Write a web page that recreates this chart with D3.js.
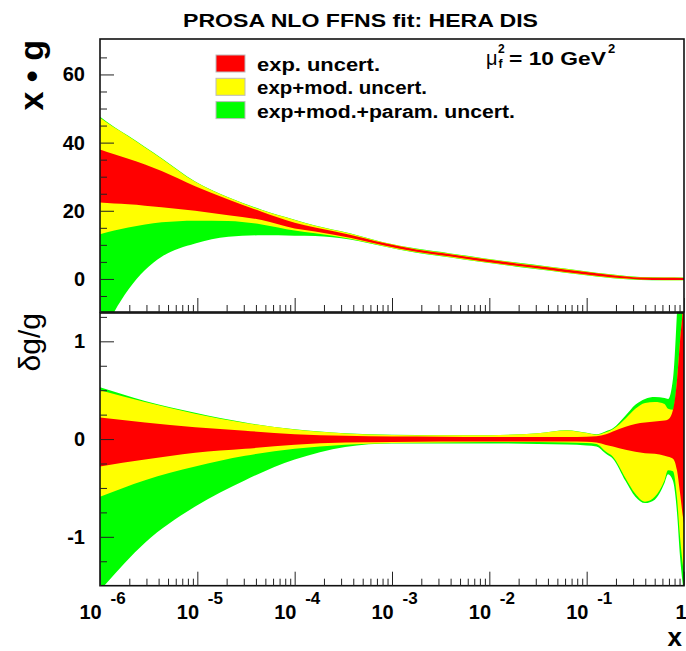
<!DOCTYPE html>
<html>
<head>
<meta charset="utf-8">
<script src="https://cdn.jsdelivr.net/npm/d3@7"></script>
<style>
  body { margin: 0; background: #fff; }
  svg { display: block; }
  text { font-family: "Liberation Sans", Arial, Helvetica, sans-serif; }
</style>
</head>
<body>
<svg id="chart" width="686" height="651"></svg>
<script>
// ---- gluon density x·g at mu_f^2 = 10 GeV^2 : band boundaries ----
const xTop = [1e-6, 1.4e-6, 1.95e-6, 2.9e-6, 4.3e-6, 9.5e-6, 2.08e-5, 4.58e-5, 1.0e-4, 1.62e-4,
              3.7e-4, 8.1e-4, 1.78e-3, 4.0e-3, 8.7e-3, 1.9e-2, 4.2e-2, 8.5e-2, 0.186, 0.355, 0.63, 1];
const topGreenHi  = [47.6, 44.6, 42.0, 38.7, 35.4, 28.6, 24.0, 20.3, 17.4, 15.7, 13.4, 10.8, 8.9, 7.5, 6.1, 4.8, 3.6, 2.5, 1.3, 0.6, 0.45, 0.4];
const topYellowHi = [47.3, 44.4, 41.9, 38.6, 35.3, 28.5, 23.9, 20.2, 17.3, 15.6, 13.3, 10.75, 8.8, 7.4, 6.0, 4.7, 3.5, 2.4, 1.2, 0.5, 0.4, 0.35];
const topRedHi    = [38.0, 36.6, 35.3, 33.6, 31.7, 27.2, 23.3, 19.7, 16.5, 15.1, 13.0, 10.6, 8.65, 7.25, 5.85, 4.55, 3.35, 2.25, 1.1, 0.45, 0.35, 0.3];
const topRedLo    = [22.4, 22.1, 21.9, 21.5, 21.0, 20.0, 18.7, 17.3, 14.8, 13.9, 12.1, 9.9, 7.95, 6.55, 5.15, 3.85, 2.65, 1.55, 0.4, -0.15, -0.3, -0.3];
const topYellowLo = [13.1, 14.2, 15.1, 16.0, 16.6, 17.1, 17.0, 16.0, 14.2, 13.4, 11.8, 9.7, 7.8, 6.4, 5.0, 3.7, 2.5, 1.4, 0.3, -0.2, -0.35, -0.35];
const topGreenLo  = [-18, -9.7, -3.2, 2.6, 6.5, 10.4, 12.4, 12.8, 12.7, 12.6, 11.6, 9.6, 7.7, 6.3, 4.9, 3.6, 2.4, 1.3, 0.2, -0.3, -0.4, -0.4];

// ---- relative uncertainty dg/g : band boundaries ----
const xRel = [1e-6, 2.9e-6, 9.5e-6, 3.1e-5, 1e-4, 3.3e-4, 1e-3, 3.16e-3, 1e-2, 3.16e-2, 6.3e-2, 0.1, 0.126,
              0.158, 0.186, 0.251, 0.316, 0.398, 0.501, 0.631, 0.686, 0.771, 0.847, 0.910, 0.977, 1];
const relGreenHi  = [0.53, 0.39, 0.27, 0.17, 0.10, 0.06, 0.044, 0.04, 0.04, 0.06, 0.09, 0.065, 0.05, 0.08, 0.11, 0.24, 0.35, 0.41, 0.43, 0.42, 0.41, 0.62, 1.3, 2.0, 3.0, 3.0];
const relYellowHi = [0.50, 0.38, 0.26, 0.165, 0.097, 0.058, 0.042, 0.038, 0.04, 0.06, 0.088, 0.062, 0.045, 0.07, 0.10, 0.21, 0.31, 0.37, 0.38, 0.36, 0.31, 0.30, 0.60, 1.0, 1.35, 1.5];
const relRedHi    = [0.22, 0.17, 0.12, 0.085, 0.05, 0.034, 0.027, 0.025, 0.022, 0.022, 0.022, 0.025, 0.03, 0.05, 0.078, 0.125, 0.155, 0.17, 0.18, 0.19, 0.20, 0.30, 0.60, 1.0, 1.35, 1.5];
const relRedLo    = [-0.28, -0.21, -0.14, -0.10, -0.058, -0.035, -0.03, -0.025, -0.025, -0.025, -0.025, -0.028, -0.035, -0.06, -0.075, -0.11, -0.13, -0.145, -0.15, -0.17, -0.18, -0.20, -0.32, -0.55, -0.80, -0.86];
const relYellowLo = [-0.59, -0.42, -0.28, -0.17, -0.10, -0.058, -0.04, -0.035, -0.03, -0.03, -0.035, -0.04, -0.05, -0.13, -0.18, -0.40, -0.56, -0.64, -0.59, -0.42, -0.32, -0.33, -0.60, -1.0, -1.30, -1.36];
const relGreenLo  = [-1.55, -1.06, -0.69, -0.42, -0.21, -0.08, -0.046, -0.045, -0.045, -0.05, -0.055, -0.065, -0.075, -0.15, -0.20, -0.43, -0.59, -0.655, -0.62, -0.45, -0.36, -0.43, -0.75, -1.2, -1.5, -1.56];

// ---- ticks and labels ----
const xDecades = [-6, -5, -4, -3, -2, -1];
const topYTicks = [0, 20, 40, 60];
const relYTicks = [-1, 0, 1];
const legendLabels = ["exp. uncert.", "exp+mod. uncert.", "exp+mod.+param. uncert."];
const bandColors = ["#ff0000", "#ffff00", "#00ff00"];

const svg = d3.select("#chart");
const L = 100, R = 684;
const topY0 = 39, topY1 = 312, botY0 = 312, botY1 = 585.7;

const x = d3.scaleLog().domain([1e-6, 1]).range([L, R]);
const yTop = d3.scaleLinear().domain([-9.7, 70.4]).range([topY1, topY0]);
const yRel = d3.scaleLinear().domain([-1.5, 1.3]).range([botY1, botY0]);

const defs = svg.append("defs");
defs.append("clipPath").attr("id", "clipTop").append("rect")
  .attr("x", L).attr("y", topY0).attr("width", R - L + 2).attr("height", topY1 - topY0);
defs.append("clipPath").attr("id", "clipRel").append("rect")
  .attr("x", L).attr("y", botY0).attr("width", R - L + 2).attr("height", botY1 - botY0);

function drawBand(g, xs, hi, lo, y, color) {
  const rows = xs.map((v, i) => ({ x: v, hi: hi[i], lo: lo[i] }));
  const area = d3.area()
    .x(d => x(d.x))
    .y0(d => y(d.lo))
    .y1(d => y(d.hi))
    .curve(d3.curveMonotoneX);
  g.append("path").datum(rows).attr("d", area).attr("fill", color).attr("stroke", "none");
}

// bands, outermost first
const gTop = svg.append("g").attr("clip-path", "url(#clipTop)");
drawBand(gTop, xTop, topGreenHi, topGreenLo, yTop, bandColors[2]);
drawBand(gTop, xTop, topYellowHi, topYellowLo, yTop, bandColors[1]);
drawBand(gTop, xTop, topRedHi, topRedLo, yTop, bandColors[0]);

const gRel = svg.append("g").attr("clip-path", "url(#clipRel)");
drawBand(gRel, xRel, relGreenHi, relGreenLo, yRel, bandColors[2]);
drawBand(gRel, xRel, relYellowHi, relYellowLo, yRel, bandColors[1]);
drawBand(gRel, xRel, relRedHi, relRedLo, yRel, bandColors[0]);

// frames
svg.append("rect").attr("x", L).attr("y", topY0).attr("width", R - L).attr("height", topY1 - topY0)
  .attr("fill", "none").attr("stroke", "#111").attr("stroke-width", 1.6);
svg.append("rect").attr("x", L).attr("y", botY0 + 1).attr("width", R - L).attr("height", botY1 - botY0 - 1)
  .attr("fill", "none").attr("stroke", "#111").attr("stroke-width", 1.6);

// x axes: major decades and minor 2..9 ticks pointing into each panel
const majorX = xDecades.map(k => Math.pow(10, k)).concat([1]);
const minorX = [];
xDecades.forEach(k => { for (let m = 2; m <= 9; m++) minorX.push(m * Math.pow(10, k)); });

function xAxes(yPos) {
  const major = d3.axisBottom(x).tickValues(majorX).tickSizeInner(-14).tickSizeOuter(0).tickFormat("");
  const minor = d3.axisBottom(x).tickValues(minorX).tickSizeInner(-7).tickSizeOuter(0).tickFormat("");
  [major, minor].forEach(a => {
    const g = svg.append("g").attr("transform", `translate(0,${yPos})`).call(a);
    g.select(".domain").remove();
    g.selectAll("line").attr("stroke", "#222").attr("stroke-width", 1);
  });
}
xAxes(topY1);
xAxes(botY1);

// y axes (labels use a plain hyphen for the minus sign)
const intFmt = v => String(Math.round(v));
function yAxis(scale, majors, minors) {
  const major = d3.axisLeft(scale).tickValues(majors).tickSizeInner(-14).tickSizeOuter(0)
    .tickPadding(15).tickFormat(intFmt);
  const g = svg.append("g").attr("transform", `translate(${L},0)`).call(major);
  g.select(".domain").remove();
  g.selectAll("line").attr("stroke", "#222");
  g.selectAll("text").attr("font-size", 20).attr("font-weight", "bold")
    .attr("font-family", "'Liberation Sans', Arial, Helvetica, sans-serif").attr("fill", "#000");
  const minor = d3.axisLeft(scale).tickValues(minors).tickSizeInner(-7).tickSizeOuter(0).tickFormat("");
  const gm = svg.append("g").attr("transform", `translate(${L},0)`).call(minor);
  gm.select(".domain").remove();
  gm.selectAll("line").attr("stroke", "#222");
}
yAxis(yTop, topYTicks, d3.range(-5, 70, 5).filter(v => v % 20 !== 0));
yAxis(yRel, relYTicks, d3.range(-1.25, 1.3, 0.25).filter(v => Math.abs(v - Math.round(v)) > 1e-6));

// x tick labels 10^k
const lab = svg.append("g").attr("font-weight", "bold").attr("fill", "#000");
xDecades.forEach(k => {
  const px = x(Math.pow(10, k));
  lab.append("text").attr("x", px - 20.5).attr("y", 619).attr("font-size", 20).text("10");
  lab.append("text").attr("x", px + 10.5).attr("y", 604).attr("font-size", 17).text(String(k));
});
lab.append("text").attr("x", x(1) - 3).attr("y", 619).attr("font-size", 20)
  .attr("text-anchor", "middle").text("1");

// axis titles
svg.append("text").attr("transform", "translate(43,40) rotate(-90)")
  .attr("text-anchor", "end").attr("font-size", 34).attr("font-weight", "bold").text("x • g");
svg.append("text").attr("transform", "translate(40,313) rotate(-90)")
  .attr("text-anchor", "end").attr("font-size", 30).text("δg/g");
svg.append("text").attr("x", 682).attr("y", 646).attr("text-anchor", "end")
  .attr("font-size", 26).attr("font-weight", "bold").text("x");

// title
svg.append("text").attr("x", 183).attr("y", 27).attr("font-size", 18).attr("font-weight", "bold")
  .attr("textLength", 355).attr("lengthAdjust", "spacingAndGlyphs")
  .text("PROSA NLO FFNS fit: HERA DIS");

// legend
const legWidths = [123, 170, 258];
legendLabels.forEach((t, i) => {
  const yb = 55 + i * 23.3;
  svg.append("rect").attr("x", 216).attr("y", yb).attr("width", 29).attr("height", 17)
    .attr("fill", bandColors[i]).attr("stroke", "#bbb").attr("stroke-width", 1);
  svg.append("text").attr("x", 257).attr("y", yb + 16).attr("font-size", 18).attr("font-weight", "bold")
    .attr("textLength", legWidths[i]).attr("lengthAdjust", "spacingAndGlyphs").text(t);
});

// scale label  mu_f^2 = 10 GeV^2
const mu = svg.append("g").attr("fill", "#000");
mu.append("text").attr("x", 486).attr("y", 65).attr("font-size", 20).text("μ");
mu.append("text").attr("x", 498).attr("y", 53).attr("font-size", 12).attr("font-weight", "bold").text("2");
mu.append("text").attr("x", 498.5).attr("y", 68).attr("font-size", 12).attr("font-weight", "bold").text("f");
mu.append("text").attr("x", 509).attr("y", 65).attr("font-size", 18).attr("font-weight", "bold")
  .attr("textLength", 97).attr("lengthAdjust", "spacingAndGlyphs").text("= 10 GeV");
mu.append("text").attr("x", 608).attr("y", 53).attr("font-size", 13).attr("font-weight", "bold").text("2");
</script>
</body>
</html>
